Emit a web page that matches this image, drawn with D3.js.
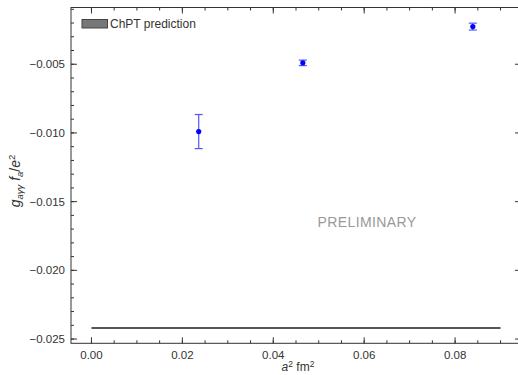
<!DOCTYPE html>
<html>
<head>
<meta charset="utf-8">
<script src="https://cdn.jsdelivr.net/npm/d3@7"></script>
<style>
  body { margin: 0; background: #fff; }
  text { font-family: "Liberation Sans", Arial, sans-serif; }
</style>
</head>
<body>
<script>
// lattice spacing squared (fm^2) and measured coupling
const a2 = [0.0236, 0.0465, 0.0839];
const gVals = [-0.0099, -0.0049, -0.00226];
const gErrs = [0.00124, 0.0002, 0.00025];

// ChPT prediction, drawn as a horizontal band/line
const chptValue = -0.0242;
const chptRange = [0.0, 0.09];

const xTicks = [0.00, 0.02, 0.04, 0.06, 0.08];
const yTicks = [-0.025, -0.020, -0.015, -0.010, -0.005];

const width = 518, height = 375;
const plotLeft = 71, plotRight = 521, plotTop = 7.5, plotBottom = 343.3;

const svg = d3.select("body").append("svg")
    .attr("width", width)
    .attr("height", height);

const x = d3.scaleLinear()
    .domain([-0.0045, 0.0945])
    .range([plotLeft, plotRight]);

const y = d3.scaleLinear()
    .domain([-0.02531, -0.00087])
    .range([plotBottom, plotTop]);

const axisColor = "#333";
const textColor = "#333";

// frame
svg.append("rect")
    .attr("x", plotLeft).attr("y", plotTop)
    .attr("width", plotRight - plotLeft).attr("height", plotBottom - plotTop)
    .attr("fill", "none")
    .attr("stroke", axisColor)
    .attr("stroke-width", 1);

// ticks, all pointing inward
const xMinor = d3.range(0, 0.0951, 0.005);
const yMinor = d3.range(-0.025, -0.0009, 0.001);

function tickLines(vals, len, horizontal){
    vals.forEach(v => {
        if (horizontal){
            const px = x(v);
            if (px < plotLeft || px > plotRight) return;
            svg.append("line").attr("x1", px).attr("x2", px).attr("y1", plotBottom).attr("y2", plotBottom - len).attr("stroke", axisColor);
            svg.append("line").attr("x1", px).attr("x2", px).attr("y1", plotTop).attr("y2", plotTop + len).attr("stroke", axisColor);
        } else {
            const py = y(v);
            if (py < plotTop || py > plotBottom) return;
            svg.append("line").attr("y1", py).attr("y2", py).attr("x1", plotLeft).attr("x2", plotLeft + len).attr("stroke", axisColor);
            svg.append("line").attr("y1", py).attr("y2", py).attr("x1", plotRight).attr("x2", plotRight - len).attr("stroke", axisColor);
        }
    });
}
tickLines(xMinor, 3, true);
tickLines(xTicks, 6, true);
tickLines(yMinor, 3, false);
tickLines(yTicks, 6, false);

const fmtX = d3.format(".2f");
const fmtY = v => d3.format(".3f")(v).replace("-", "\u2212");

svg.selectAll(".xlab")
    .data(xTicks)
    .enter()
    .append("text")
    .attr("class", "xlab")
    .attr("x", d => x(d))
    .attr("y", plotBottom + 16)
    .attr("text-anchor", "middle")
    .attr("font-size", 11.5)
    .attr("fill", textColor)
    .text(fmtX);

svg.selectAll(".ylab")
    .data(yTicks)
    .enter()
    .append("text")
    .attr("class", "ylab")
    .attr("x", plotLeft - 6)
    .attr("y", d => y(d) + 4)
    .attr("text-anchor", "end")
    .attr("font-size", 11.5)
    .attr("fill", textColor)
    .text(fmtY);

// axis titles
const xt = svg.append("text")
    .attr("x", 298)
    .attr("y", 371)
    .attr("text-anchor", "middle")
    .attr("font-size", 12)
    .attr("fill", textColor);
xt.append("tspan").attr("font-style", "italic").text("a");
xt.append("tspan").attr("font-size", 8.5).attr("dy", -4.5).text("2");
xt.append("tspan").attr("dy", 4.5).text(" fm");
xt.append("tspan").attr("font-size", 8.5).attr("dy", -4.5).text("2");

const yt = svg.append("text")
    .attr("transform", "translate(20,181) rotate(-90)")
    .attr("text-anchor", "middle")
    .attr("font-size", 14)
    .attr("fill", textColor);
yt.append("tspan").attr("font-style", "italic").text("g");
yt.append("tspan").attr("font-style", "italic").attr("font-size", 9.5).attr("dy", 3).text("a\u03b3\u03b3");
yt.append("tspan").attr("dy", -3).text(" ");
yt.append("tspan").attr("font-style", "italic").text("f");
yt.append("tspan").attr("font-style", "italic").attr("font-size", 9.5).attr("dy", 3).text("a");
yt.append("tspan").attr("dy", -3).text("/");
yt.append("tspan").attr("font-style", "italic").text("e");
yt.append("tspan").attr("font-size", 9.5).attr("dy", -5).text("2");

// ChPT prediction
svg.append("line")
    .attr("x1", x(chptRange[0]))
    .attr("x2", x(chptRange[1]))
    .attr("y1", y(chptValue))
    .attr("y2", y(chptValue))
    .attr("stroke", "#555")
    .attr("stroke-width", 2);

// data points with error bars
const pts = a2.map((d, i) => ({x: d, y: gVals[i], e: gErrs[i]}));
const errColor = "#5555ff";

const g = svg.append("g");
g.selectAll(".err")
    .data(pts)
    .enter()
    .append("line")
    .attr("x1", d => x(d.x)).attr("x2", d => x(d.x))
    .attr("y1", d => y(d.y - d.e)).attr("y2", d => y(d.y + d.e))
    .attr("stroke", errColor).attr("stroke-width", 1.2);

["lo", "hi"].forEach(side => {
    g.selectAll(".cap-" + side)
        .data(pts)
        .enter()
        .append("line")
        .attr("x1", d => x(d.x) - 4).attr("x2", d => x(d.x) + 4)
        .attr("y1", d => y(side === "lo" ? d.y - d.e : d.y + d.e))
        .attr("y2", d => y(side === "lo" ? d.y - d.e : d.y + d.e))
        .attr("stroke", errColor).attr("stroke-width", 1.2);
});

g.selectAll(".pt")
    .data(pts)
    .enter()
    .append("circle")
    .attr("cx", d => x(d.x))
    .attr("cy", d => y(d.y))
    .attr("r", 2.6)
    .attr("fill", "#0000ff");

// legend
svg.append("rect")
    .attr("x", 82).attr("y", 19.5)
    .attr("width", 25.5).attr("height", 8.5)
    .attr("fill", "#777")
    .attr("stroke", "#444")
    .attr("stroke-width", 1);
svg.append("text")
    .attr("x", 110)
    .attr("y", 28)
    .attr("font-size", 12)
    .attr("fill", textColor)
    .text("ChPT prediction");

// watermark
svg.append("text")
    .attr("x", 367)
    .attr("y", 227)
    .attr("text-anchor", "middle")
    .attr("font-size", 14)
    .attr("letter-spacing", 0.4)
    .attr("fill", "#999")
    .text("PRELIMINARY");
</script>
</body>
</html>
